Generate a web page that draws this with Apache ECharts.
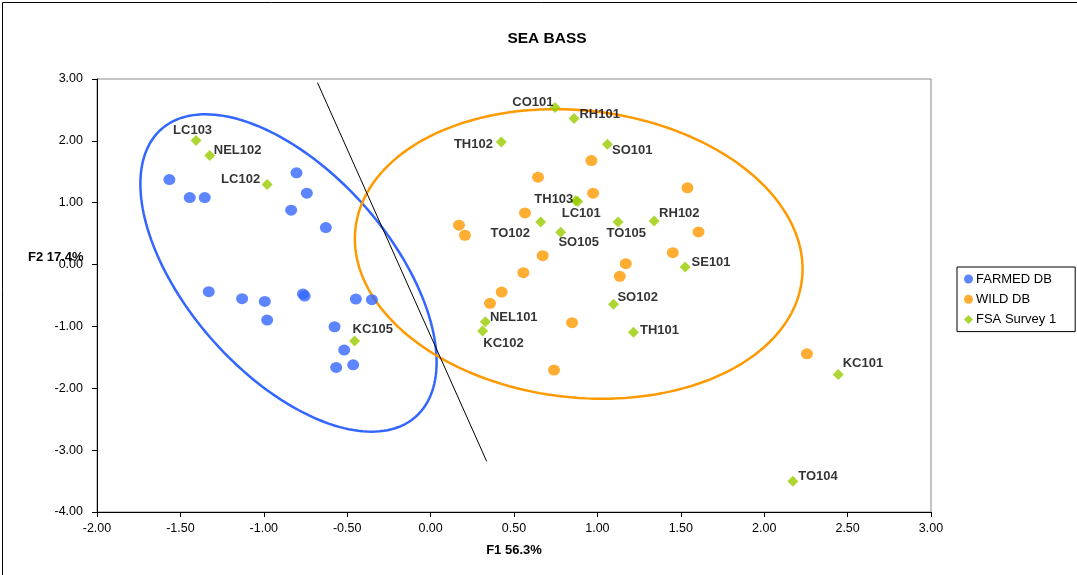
<!DOCTYPE html>
<html>
<head>
<meta charset="utf-8">
<script src="https://cdn.jsdelivr.net/npm/echarts@6/dist/echarts.min.js"></script>
<style>
html,body{margin:0;padding:0;background:#fff;}
#chart{width:1077px;height:575px;}
</style>
</head>
<body>
<div id="chart"></div>
<script>
// ---- data ----
const chartTitle = 'SEA BASS';
const xAxisName = 'F1 56.3%';
const yAxisName = 'F2 17.4%';
const seriesNames = ['FARMED DB', 'WILD DB', 'FSA Survey 1'];

const farmedDB = [
  [-1.566, 1.374], [-1.444, 1.083], [-1.354, 1.083], [-0.804, 1.483],
  [-0.742, 1.154], [-0.836, 0.879], [-0.628, 0.598], [-1.330, -0.438],
  [-1.130, -0.551], [-0.994, -0.595], [-0.980, -0.897], [-0.765, -0.475],
  [-0.755, -0.510], [-0.448, -0.557], [-0.352, -0.568], [-0.576, -1.005],
  [-0.518, -1.383], [-0.566, -1.663], [-0.464, -1.620]
];

const wildDB = [
  [0.964, 1.682], [0.644, 1.413], [0.974, 1.154], [1.540, 1.240],
  [0.566, 0.835], [0.170, 0.636], [0.206, 0.474], [1.606, 0.528],
  [1.452, 0.193], [0.672, 0.144], [1.170, 0.015], [0.556, -0.131],
  [1.134, -0.190], [0.426, -0.444], [0.356, -0.627], [0.848, -0.940],
  [0.740, -1.706], [2.256, -1.442]
];

const fsaNames = ['LC103', 'NEL102', 'LC102', 'KC105', 'CO101', 'RH101', 'TH102', 'SO101',
  'TH103', 'LC101', 'TO102', 'SO105', 'TO105', 'RH102', 'SE101', 'SO102',
  'NEL101', 'KC102', 'TH101', 'KC101', 'TO104'];
const fsaX = [-1.406, -1.324, -0.980, -0.456, 0.746, 0.860, 0.424, 1.060,
  0.870, 0.882, 0.660, 0.780, 1.124, 1.340, 1.526, 1.096,
  0.328, 0.312, 1.216, 2.444, 2.172];
const fsaY = [2.006, 1.763, 1.294, -1.237, 2.540, 2.362, 1.980, 1.947,
  1.030, 1.020, 0.690, 0.523, 0.690, 0.706, -0.039, -0.643,
  -0.924, -1.075, -1.096, -1.776, -3.503];

// confidence ellipses: centre, two conjugate semi-axis vectors (data units)
const farmedEllipse = { c: [-0.852, -0.136], u: [0.888, -1.439], v: [0, -2.124] };
const wildEllipse   = { c: [0.888, 0.172],   u: [1.342, -0.244], v: [0, -2.328] };
// separating line end points
const dividerLine = [[-0.678, 2.940], [0.336, -3.180]];

const xTicks = { min: -2, max: 3, step: 0.5 };
const yTicks = { min: -4, max: 3, step: 1 };

// ---- label placement (style only): align, dx, dy from marker centre ----
const labelPlace = {
  LC103: ['center', -3.5, -10], NEL102: ['left', 4, -5], LC102: ['right', -7, -4.7],
  KC105: ['left', -2, -11.7], CO101: ['right', -1.6, -5], RH101: ['left', 5.4, -4.4],
  TH102: ['right', -8.4, 2.7], SO101: ['left', 4.6, 6.7], TH103: ['right', -2.4, -1.6],
  LC101: ['left', -16, 12], TO102: ['right', -10.7, 11.7], SO105: ['left', -2.3, 10.4],
  TO105: ['left', -11.6, 11.7], RH102: ['left', 5, -7.7], SE101: ['left', 6.4, -4.7],
  SO102: ['left', 4, -7], NEL101: ['left', 4.6, -4], KC102: ['left', 0.7, 12],
  TH101: ['left', 6.6, -2.3], KC101: ['left', 4.4, -10.6], TO104: ['left', 5.3, -5.3]
};

function ellipsePoints(e) {
  const pts = [];
  const n = 180;
  for (let i = 0; i <= n; i++) {
    const t = 2 * Math.PI * i / n;
    pts.push([e.c[0] + e.u[0] * Math.cos(t) + e.v[0] * Math.sin(t),
              e.c[1] + e.u[1] * Math.cos(t) + e.v[1] * Math.sin(t)]);
  }
  return pts;
}

const FONT = 'Liberation Sans, Arial, sans-serif';
const BLUE = '#3366FF', ORANGE = '#FF9900', GREEN = '#99CC00';
const DIAMOND = 11;

const fsaData = fsaNames.map((nm, i) => {
  const p = labelPlace[nm];
  return {
    name: nm,
    value: [fsaX[i], fsaY[i]],
    label: { position: [DIAMOND / 2 + p[1], DIAMOND / 2 + p[2]], align: p[0], verticalAlign: 'middle' }
  };
});

const chart = echarts.init(document.getElementById('chart'), null, { renderer: 'canvas' });
chart.setOption({
  animation: false,
  backgroundColor: '#fff',
  textStyle: { fontFamily: FONT },
  title: {
    text: chartTitle,
    left: 542, top: 26, textAlign: 'center',
    textStyle: { fontFamily: FONT, fontSize: 15.5, fontWeight: 'bold', color: '#000' }
  },
  graphic: [
    { type: 'rect', shape: { x: 2.5, y: 2.5, width: 1200, height: 700 },
      style: { fill: 'none', stroke: '#000', lineWidth: 1 }, silent: true, z: 0 },
    { type: 'text', left: 28, top: 251,
      style: { text: yAxisName, font: 'bold 13px ' + FONT, fill: '#000' }, z: 10 }
  ],
  legend: {
    orient: 'vertical',
    left: 957, top: 267,
    data: [
      { name: seriesNames[0], icon: 'circle' },
      { name: seriesNames[1], icon: 'circle' },
      { name: seriesNames[2], icon: 'diamond' }
    ],
    itemWidth: 9, itemHeight: 9, itemGap: 6.3,
    padding: [5, 19, 5, 7],
    borderColor: '#000', borderWidth: 1,
    textStyle: { fontFamily: FONT, fontSize: 13, color: '#000', lineHeight: 14, padding: [0, 0, 0, -2] }
  },
  grid: {
    left: 97, right: 146, top: 79, bottom: 63,
    show: true, borderColor: '#888', borderWidth: 1, backgroundColor: 'transparent'
  },
  xAxis: {
    type: 'value', min: xTicks.min, max: xTicks.max, interval: xTicks.step,
    name: xAxisName, nameLocation: 'middle', nameGap: 32,
    nameTextStyle: { fontFamily: FONT, fontSize: 13, fontWeight: 'bold', color: '#000' },
    axisLine: { onZero: false, lineStyle: { color: '#000', width: 1 } },
    axisTick: { show: true, length: 5, lineStyle: { color: '#000' } },
    axisLabel: { margin: 10, fontFamily: FONT, fontSize: 12.5, color: '#000',
      formatter: v => v.toFixed(2) },
    splitLine: { show: false }
  },
  yAxis: {
    type: 'value', min: yTicks.min, max: yTicks.max, interval: yTicks.step,
    axisLine: { show: true, onZero: false, lineStyle: { color: '#000', width: 1 } },
    axisTick: { show: true, length: 5, lineStyle: { color: '#000' } },
    axisLabel: { margin: 14, fontFamily: FONT, fontSize: 12.5, color: '#000',
      formatter: v => v.toFixed(2) },
    splitLine: { show: false }
  },
  series: [
    {
      name: 'farmedEllipse', type: 'line', data: ellipsePoints(farmedEllipse),
      showSymbol: false, silent: true, lineStyle: { color: BLUE, width: 2.5 }, z: 2
    },
    {
      name: 'wildEllipse', type: 'line', data: ellipsePoints(wildEllipse),
      showSymbol: false, silent: true, lineStyle: { color: ORANGE, width: 2.5 }, z: 2
    },
    {
      name: 'divider', type: 'line', data: dividerLine,
      showSymbol: false, silent: true, lineStyle: { color: '#000', width: 1 }, z: 2
    },
    {
      name: seriesNames[0], type: 'scatter', data: farmedDB,
      symbol: 'circle', symbolSize: [12, 11], itemStyle: { color: BLUE }, z: 3
    },
    {
      name: seriesNames[1], type: 'scatter', data: wildDB,
      symbol: 'circle', symbolSize: [12, 11], itemStyle: { color: ORANGE }, z: 3
    },
    {
      name: seriesNames[2], type: 'scatter', data: fsaData,
      symbol: 'diamond', symbolSize: DIAMOND, itemStyle: { color: GREEN }, z: 4,
      label: {
        show: true,
        formatter: '{b}', color: '#000', fontFamily: FONT, fontSize: 13, fontWeight: 'bold'
      }
    }
  ]
});
</script>
</body>
</html>
